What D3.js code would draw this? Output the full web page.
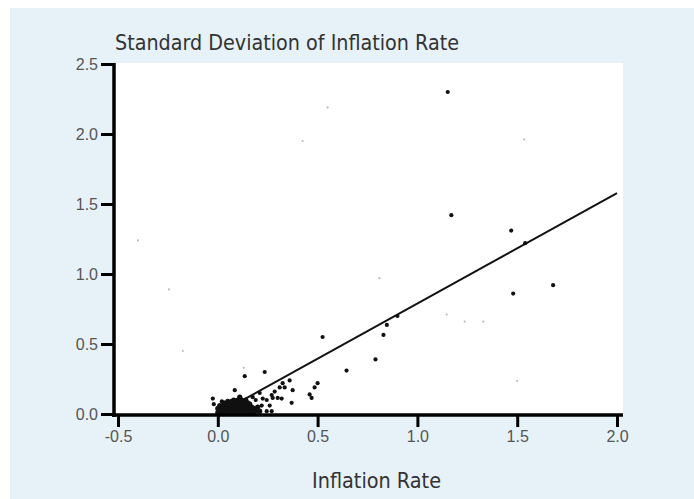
<!DOCTYPE html>
<html>
<head>
<meta charset="utf-8">
<script src="https://cdn.jsdelivr.net/npm/d3@7"></script>
<style>
  body { margin: 0; background: #fff; }
</style>
</head>
<body>
<div id="chart-area"></div>
<script>
// dark points: [inflation rate, std dev]
const darkPoints = [
  [1.152, 2.30], [1.17, 1.42], [1.47, 1.31], [1.54, 1.22], [1.48, 0.86], [1.68, 0.92],
  [0.90, 0.70], [0.847, 0.636], [0.83, 0.565], [0.79, 0.39], [0.645, 0.31], [0.525, 0.55],
  [0.085, 0.17], [-0.025, 0.11], [0.175, 0.12], [0.135, 0.27], [0.235, 0.30],
  [0.225, 0.11], [0.245, 0.10], [0.27, 0.135], [0.285, 0.16], [0.31, 0.19],
  [0.325, 0.22], [0.335, 0.19], [0.36, 0.24], [0.375, 0.17], [0.50, 0.22], [0.485, 0.19],
  [0.46, 0.14], [0.47, 0.115], [0.37, 0.08], [0.275, 0.115], [0.30, 0.115], [0.32, 0.11],
  [0.21, 0.15], [0.245, 0.02], [0.27, 0.02], [-0.02, 0.07], [0.02, 0.09], [0.22, 0.06],
  [0.19, 0.10], [0.26, 0.06]
];

// dense cluster near the origin
const clusterPoints = [
  [0.00, 0.01], [0.00, 0.04], [0.01, 0.02], [0.01, 0.06], [0.02, 0.01], [0.02, 0.04],
  [0.03, 0.02], [0.03, 0.05], [0.03, 0.08], [0.04, 0.01], [0.04, 0.04], [0.04, 0.07],
  [0.05, 0.02], [0.05, 0.05], [0.05, 0.09], [0.06, 0.01], [0.06, 0.04], [0.06, 0.07],
  [0.07, 0.02], [0.07, 0.05], [0.07, 0.09], [0.08, 0.01], [0.08, 0.04], [0.08, 0.07],
  [0.08, 0.10], [0.09, 0.02], [0.09, 0.05], [0.09, 0.08], [0.10, 0.01], [0.10, 0.04],
  [0.10, 0.07], [0.10, 0.10], [0.11, 0.02], [0.11, 0.05], [0.11, 0.08], [0.11, 0.12],
  [0.12, 0.01], [0.12, 0.04], [0.12, 0.07], [0.12, 0.10], [0.13, 0.02], [0.13, 0.05],
  [0.13, 0.08], [0.14, 0.01], [0.14, 0.04], [0.14, 0.07], [0.14, 0.10], [0.15, 0.02],
  [0.15, 0.05], [0.15, 0.08], [0.16, 0.01], [0.16, 0.04], [0.16, 0.07], [0.17, 0.02],
  [0.17, 0.05], [0.18, 0.01], [0.18, 0.04], [0.19, 0.02], [0.20, 0.05], [0.21, 0.02]
];

// faint grey points
const faintPoints = [
  [1.535, 1.96], [0.81, 0.97], [1.147, 0.71], [1.237, 0.66], [1.33, 0.66], [1.50, 0.235],
  [0.55, 2.19], [0.425, 1.95], [-0.40, 1.24], [-0.245, 0.89], [-0.175, 0.45], [0.13, 0.33]
];

// fitted line endpoints
const fitLine = [[0.12, 0.095], [2.0, 1.578]];

const xTicks = [-0.5, 0, 0.5, 1.0, 1.5, 2.0];
const yTicks = [0, 0.5, 1.0, 1.5, 2.0, 2.5];

const width = 694, height = 499;
const plot = { left: 114, right: 623, top: 63, bottom: 415 };

let svg = d3.select('#chart-area')
  .append('svg')
  .attr('width', width)
  .attr('height', height)
  .style('display', 'block');

svg.append('rect')
  .attr('x', 10).attr('y', 8)
  .attr('width', width - 10).attr('height', height - 8)
  .attr('fill', '#e6f1f8');

svg.append('rect')
  .attr('x', plot.left).attr('y', plot.top)
  .attr('width', plot.right - plot.left).attr('height', plot.bottom - plot.top)
  .attr('fill', '#fff');

const x = d3.scaleLinear().domain([-0.5, 2]).range([118, 617]);
const y = d3.scaleLinear().domain([0, 2.5]).range([414, 64]);
const fmt = v => d3.format('.1f')(v).replace('\u2212', '-');

// faint points
svg.append('g')
  .selectAll('circle')
  .data(faintPoints)
  .join('circle')
  .attr('cx', d => x(d[0]))
  .attr('cy', d => y(d[1]))
  .attr('r', 1.1)
  .attr('fill', '#bbb');

// dark points
svg.append('g')
  .selectAll('circle')
  .data(darkPoints)
  .join('circle')
  .attr('cx', d => x(d[0]))
  .attr('cy', d => y(d[1]))
  .attr('r', 2.1)
  .attr('fill', '#111');

svg.append('g')
  .selectAll('circle')
  .data(clusterPoints)
  .join('circle')
  .attr('cx', d => x(d[0]))
  .attr('cy', d => y(d[1]))
  .attr('r', 2.6)
  .attr('fill', '#111');

// fit line
svg.append('path')
  .datum(fitLine)
  .attr('d', d3.line().x(d => x(d[0])).y(d => y(d[1])))
  .attr('fill', 'none')
  .attr('stroke', '#111')
  .attr('stroke-width', 2);

// axes
let yAxis = svg.append('g')
  .attr('transform', `translate(${plot.left},0)`)
  .call(d3.axisLeft(y).tickValues(yTicks).tickFormat(fmt).tickSize(13).tickPadding(3));

let xAxis = svg.append('g')
  .attr('transform', `translate(0,${plot.bottom})`)
  .call(d3.axisBottom(x).tickValues(xTicks).tickFormat(fmt).tickSize(12).tickPadding(4));

[yAxis, xAxis].forEach(a => {
  a.select('.domain').remove();
  a.selectAll('.tick line').attr('stroke', '#000').attr('stroke-width', 3);
  a.selectAll('.tick text')
    .attr('fill', '#555')
    .style('font', '16px "Liberation Sans", Arial, sans-serif');
});

svg.append('line')
  .attr('x1', plot.left).attr('x2', plot.left)
  .attr('y1', y(2.5) - 1).attr('y2', plot.bottom + 2)
  .attr('stroke', '#000').attr('stroke-width', 3.5);

svg.append('line')
  .attr('x1', plot.left - 2).attr('x2', plot.right)
  .attr('y1', plot.bottom).attr('y2', plot.bottom)
  .attr('stroke', '#000').attr('stroke-width', 3.5);

// titles
svg.append('text')
  .attr('x', 115).attr('y', 50)
  .attr('fill', '#333')
  .attr('textLength', 344)
  .attr('lengthAdjust', 'spacingAndGlyphs')
  .style('font', '21px "DejaVu Sans Condensed", sans-serif')
  .text('Standard Deviation of Inflation Rate');

svg.append('text')
  .attr('x', 312).attr('y', 488)
  .attr('fill', '#333')
  .attr('textLength', 129)
  .attr('lengthAdjust', 'spacingAndGlyphs')
  .style('font', '21px "DejaVu Sans Condensed", sans-serif')
  .text('Inflation Rate');
</script>
</body>
</html>
